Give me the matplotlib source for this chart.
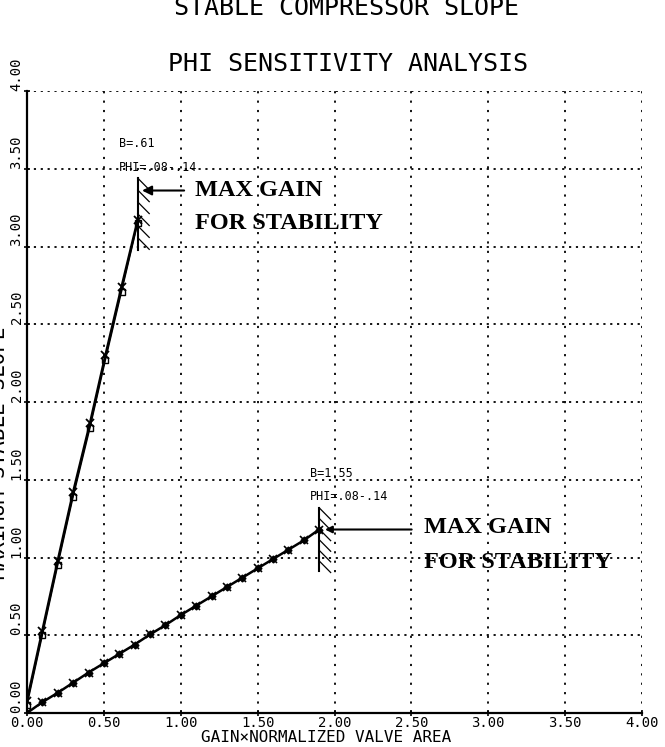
import matplotlib
matplotlib.use("Agg")
import matplotlib.pyplot as plt

# steep curve (B=.61), two PHI values nearly on top of each other
steep_x = [0.0, 0.1, 0.2, 0.3, 0.41, 0.51, 0.615, 0.72]
steep_y_phi08 = [0.08, 0.53, 0.98, 1.42, 1.865, 2.30, 2.74, 3.17]
steep_y_phi14 = [0.05, 0.50, 0.95, 1.39, 1.835, 2.27, 2.71, 3.15]

# shallow curve (B=1.55)
low_x = [0.0, 0.1, 0.2, 0.3, 0.4, 0.5, 0.6, 0.7, 0.8, 0.9,
         1.0, 1.1, 1.2, 1.3, 1.4, 1.5, 1.6, 1.7, 1.8, 1.9]
low_y = [0.0, 0.07, 0.13, 0.195, 0.26, 0.32, 0.38, 0.44, 0.505, 0.565,
         0.63, 0.69, 0.75, 0.81, 0.87, 0.93, 0.99, 1.05, 1.11, 1.18]

# stability limits: gain, slope range of the hatched boundary
limit_gain = [0.72, 1.9]
limit_lo = [2.98, 0.91]
limit_hi = [3.44, 1.32]
limit_slope = [3.36, 1.18]
b_labels = ["B=.61", "B=1.55"]
b_label_x = [0.60, 1.84]
phi_label = "PHI=.08-.14"

ticks = [0.0, 0.5, 1.0, 1.5, 2.0, 2.5, 3.0, 3.5, 4.0]
tick_labels = ["%.2f" % t for t in ticks]

mono = "DejaVu Sans Mono"

fig = plt.figure(figsize=(6.65, 7.47), dpi=100)
ax = fig.add_axes([27 / 665, 34 / 747, 615 / 665, 622 / 747])
ax.set_xlim(0, 4)
ax.set_ylim(0, 4)

# dotted grid
for t in ticks[1:]:
    ax.axhline(t, color="black", lw=1.3, ls=(0, (1.2, 2.6)), zorder=1)
    ax.axvline(t, color="black", lw=1.3, ls=(0, (1.2, 4.0)), zorder=1)

for s in ["top", "right"]:
    ax.spines[s].set_visible(False)
ax.spines["left"].set_linewidth(1.6)
ax.spines["bottom"].set_linewidth(1.6)

ax.set_xticks(ticks)
ax.set_xticklabels(tick_labels, family=mono, fontsize=10)
ax.set_yticks(ticks)
ax.set_yticklabels(tick_labels, family=mono, fontsize=10, rotation=90, va="bottom", ha="right")
ax.tick_params(axis="both", direction="inout", length=5, width=1.2)
ax.tick_params(axis="y", pad=0)
ax.tick_params(axis="x", pad=0)

# curves
ax.plot(steep_x, steep_y_phi08, color="black", lw=1.8, marker="x", ms=6, mew=1.3, zorder=3)
ax.plot(steep_x, steep_y_phi14, color="black", lw=1.0, marker="s", ms=5, mfc="none", mew=1.0, zorder=3)
ax.plot(low_x, low_y, color="black", lw=1.8, marker="D", ms=3.5, zorder=3)
ax.plot(low_x, low_y, color="black", lw=0, marker="x", ms=5.5, mew=1.2, zorder=3)

# hatched stability boundaries with arrows and notes
for i in range(2):
    gx = limit_gain[i]
    ax.plot([gx, gx], [limit_lo[i], limit_hi[i]], color="black", lw=1.5, zorder=4)
    n = 6
    step = (limit_hi[i] - limit_lo[i]) / n
    for k in range(n):
        y0 = limit_hi[i] - k * step
        ax.plot([gx, gx + 0.075], [y0, y0 - 0.075], color="black", lw=0.9, zorder=4)
    ax.text(b_label_x[i], limit_hi[i] + 0.22, b_labels[i], family=mono, fontsize=8.5, va="center")
    ax.text(b_label_x[i], limit_hi[i] + 0.07, phi_label, family=mono, fontsize=8.5, va="center")

ax.annotate("", xy=(limit_gain[0] + 0.01, limit_slope[0]), xytext=(1.04, limit_slope[0]),
            arrowprops=dict(arrowstyle="-|>", color="black", lw=1.5, mutation_scale=14))
ax.annotate("", xy=(limit_gain[1] + 0.02, limit_slope[1]), xytext=(2.52, limit_slope[1]),
            arrowprops=dict(arrowstyle="-|>", color="black", lw=1.5, mutation_scale=10))

serif = dict(family="Liberation Serif", fontsize=17.5, weight="bold", va="center")
ax.text(1.09, 3.36, "MAX GAIN", **serif)
ax.text(1.09, 3.15, "FOR STABILITY", **serif)
ax.text(2.585, 1.19, "MAX GAIN", **serif)
ax.text(2.585, 0.97, "FOR STABILITY", **serif)

# titles and axis labels
fig.text(346 / 665, 1 - 15 / 747, "STABLE COMPRESSOR SLOPE", family=mono, fontsize=18, ha="center", va="baseline")
fig.text(348 / 665, 1 - 71 / 747, "PHI SENSITIVITY ANALYSIS", family=mono, fontsize=18, ha="center", va="baseline")
fig.text(326 / 665, 1 - 738 / 747, "GAIN\u00d7NORMALIZED VALVE AREA", family=mono, fontsize=11.5, ha="center", va="center")
fig.text(-1 / 665, 1 - 453 / 747, "MAXIMUM STABLE SLOPE", family=mono, fontsize=15, rotation=90, ha="center", va="center")

fig.savefig("out.png", dpi=100)
